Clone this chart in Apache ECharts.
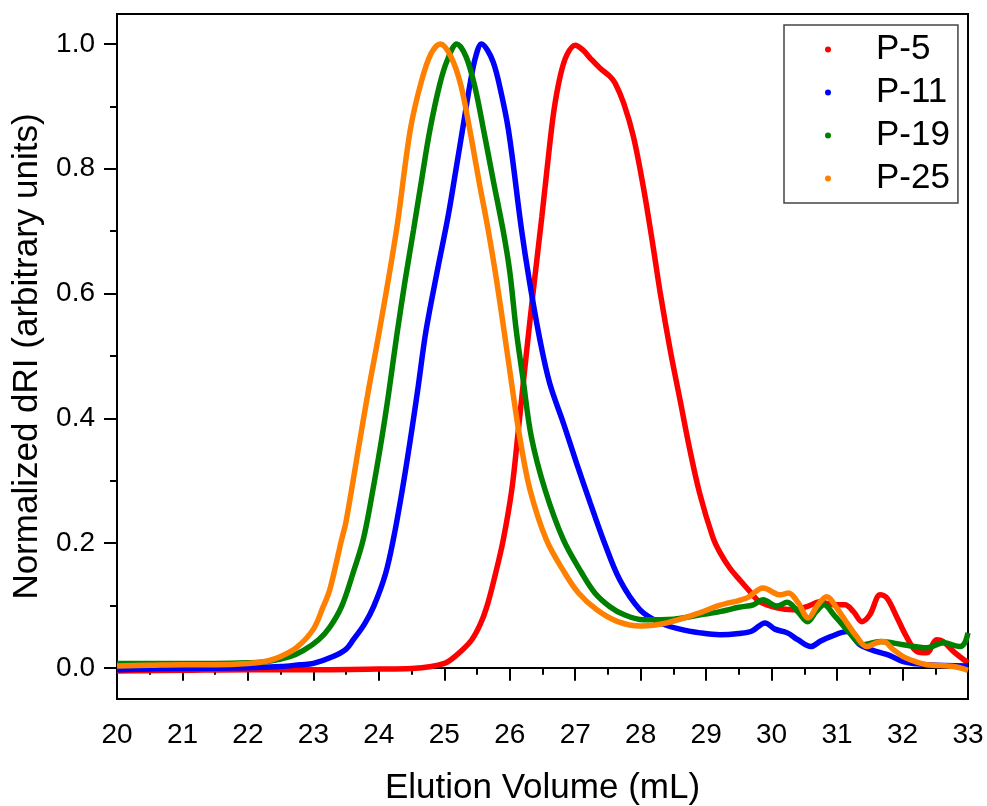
<!DOCTYPE html>
<html>
<head>
<meta charset="utf-8">
<script src="https://cdn.jsdelivr.net/npm/echarts@6/dist/echarts.min.js"></script>
<style>html,body{margin:0;padding:0;background:#fff}#c{width:987px;height:806px}</style>
</head>
<body>
<div id="c"></div>
<script>
const seriesNames = ['P-5', 'P-11', 'P-19', 'P-25'];
const seriesColors = ['#ff0000', '#0000ff', '#008000', '#ff8000'];
const xTicks = [20, 21, 22, 23, 24, 25, 26, 27, 28, 29, 30, 31, 32, 33];
const yTickLabels = [0.0, 0.2, 0.4, 0.6, 0.8, 1.0];
const yMinorTicks = [0.1, 0.3, 0.5, 0.7, 0.9];

const p5 = [[20,-0.005],[21,-0.004],[22,-0.003],[23,-0.003],[24,-0.002],[24.5,-0.001],[24.8,0.002],[25.0,0.007],[25.1,0.013],[25.25,0.026],[25.42,0.045],[25.55,0.07],[25.65,0.098],[25.78,0.15],[25.9,0.205],[26.03,0.285],[26.12,0.37],[26.25,0.5],[26.36,0.605],[26.49,0.723],[26.57,0.8],[26.67,0.89],[26.77,0.948],[26.87,0.982],[27.0,0.998],[27.12,0.99],[27.23,0.977],[27.38,0.961],[27.53,0.948],[27.61,0.937],[27.74,0.905],[27.89,0.851],[28.04,0.771],[28.19,0.675],[28.3,0.6],[28.45,0.51],[28.6,0.43],[28.75,0.35],[28.9,0.28],[29.1,0.21],[29.21,0.185],[29.36,0.16],[29.52,0.14],[29.67,0.122],[29.82,0.106],[30.08,0.096],[30.33,0.093],[30.54,0.098],[30.74,0.106],[30.94,0.101],[31.12,0.101],[31.25,0.09],[31.38,0.074],[31.5,0.085],[31.66,0.117],[31.76,0.112],[31.91,0.082],[32.06,0.05],[32.22,0.026],[32.37,0.024],[32.52,0.045],[32.62,0.042],[32.78,0.026],[33.0,0.008]];
const p11 = [[20,-0.003],[21,-0.001],[22,0.0],[22.5,0.002],[22.8,0.005],[23.0,0.007],[23.3,0.018],[23.5,0.03],[23.61,0.045],[23.78,0.07],[23.92,0.098],[24.1,0.15],[24.22,0.205],[24.35,0.28],[24.48,0.365],[24.6,0.45],[24.72,0.54],[24.9,0.64],[25.06,0.725],[25.18,0.8],[25.29,0.87],[25.4,0.94],[25.48,0.98],[25.57,1.0],[25.66,0.99],[25.75,0.97],[25.84,0.935],[25.98,0.862],[26.18,0.702],[26.3,0.62],[26.46,0.526],[26.61,0.456],[26.82,0.392],[27.02,0.328],[27.23,0.264],[27.43,0.205],[27.68,0.141],[27.99,0.093],[28.3,0.072],[28.6,0.062],[28.91,0.056],[29.21,0.053],[29.5,0.055],[29.7,0.059],[29.9,0.072],[30.05,0.062],[30.24,0.056],[30.4,0.045],[30.6,0.034],[30.75,0.043],[30.9,0.05],[31.15,0.058],[31.35,0.037],[31.61,0.026],[31.8,0.02],[32.01,0.01],[32.37,0.005],[33,0.003]];
const p19 = [[20,0.007],[20.5,0.007],[21,0.007],[21.5,0.007],[22,0.008],[22.3,0.01],[22.64,0.018],[22.85,0.028],[23.08,0.045],[23.25,0.065],[23.43,0.098],[23.6,0.15],[23.76,0.205],[23.9,0.28],[24.04,0.365],[24.15,0.44],[24.27,0.53],[24.4,0.62],[24.53,0.702],[24.65,0.78],[24.78,0.862],[24.93,0.935],[25.05,0.975],[25.19,1.0],[25.33,0.98],[25.47,0.93],[25.6,0.862],[25.75,0.78],[25.9,0.7],[26.0,0.635],[26.1,0.54],[26.2,0.465],[26.33,0.37],[26.54,0.285],[26.82,0.205],[27.1,0.152],[27.3,0.12],[27.53,0.098],[27.75,0.085],[28.04,0.077],[28.5,0.078],[28.91,0.085],[29.21,0.09],[29.5,0.097],[29.72,0.101],[29.87,0.109],[30.08,0.099],[30.24,0.105],[30.4,0.09],[30.55,0.074],[30.68,0.09],[30.8,0.101],[30.95,0.085],[31.15,0.061],[31.4,0.037],[31.66,0.042],[32.01,0.037],[32.37,0.032],[32.63,0.04],[32.88,0.034],[32.95,0.04],[33,0.056]];
const p25 = [[20,0.003],[20.5,0.004],[21,0.005],[21.5,0.005],[22,0.007],[22.3,0.011],[22.5,0.018],[22.75,0.033],[23.0,0.062],[23.15,0.098],[23.25,0.125],[23.43,0.205],[23.5,0.235],[23.71,0.365],[23.85,0.45],[24.0,0.535],[24.27,0.702],[24.48,0.862],[24.65,0.94],[24.8,0.985],[24.94,1.0],[25.1,0.98],[25.25,0.935],[25.39,0.862],[25.53,0.78],[25.67,0.702],[25.8,0.62],[25.92,0.535],[26.05,0.44],[26.16,0.365],[26.31,0.285],[26.56,0.205],[26.84,0.152],[27.05,0.12],[27.33,0.093],[27.65,0.074],[28.0,0.067],[28.4,0.072],[28.9,0.088],[29.2,0.1],[29.62,0.112],[29.87,0.128],[30.13,0.117],[30.26,0.12],[30.4,0.105],[30.56,0.08],[30.7,0.1],[30.84,0.114],[31.0,0.095],[31.15,0.072],[31.3,0.05],[31.45,0.034],[31.6,0.04],[31.71,0.042],[31.85,0.03],[32.01,0.018],[32.2,0.01],[32.37,0.005],[32.78,0.002],[33,-0.004]];
const seriesData = [p5, p11, p19, p25];

const FONT = 'Liberation Sans, Arial, sans-serif';
const chart = echarts.init(document.getElementById('c'), null, {renderer: 'canvas'});
chart.setOption({
  backgroundColor: '#fff',
  animation: false,
  grid: {left: 117, right: 19, top: 14, bottom: 107, outerBoundsMode: 'none', containLabel: false, show: true, borderColor: '#000', borderWidth: 2, backgroundColor: 'transparent'},
  legend: {
    orient: 'vertical', left: 784, top: 25,
    padding: [7, 8, 7, 41], itemGap: 8,
    borderColor: '#444', borderWidth: 1.5,
    icon: 'circle', itemWidth: 6, itemHeight: 6,
    textStyle: {fontFamily: FONT, fontSize: 35, color: '#000', lineHeight: 35, padding: [0, 0, 0, 40]},
    data: seriesNames
  },
  xAxis: {
    type: 'value', min: 20, max: 33, interval: 1,
    name: 'Elution Volume (mL)', nameLocation: 'middle', nameGap: 72,
    nameTextStyle: {fontFamily: FONT, fontSize: 35, color: '#000'},
    axisLine: {show: true, lineStyle: {color: '#000', width: 2}},
    axisTick: {show: true, inside: false, length: 13, lineStyle: {color: '#000', width: 2}},
    minorTick: {show: true, splitNumber: 2, length: 7, lineStyle: {color: '#000', width: 2}},
    axisLabel: {fontFamily: FONT, fontSize: 28, color: '#000', margin: 22, customValues: xTicks},
    splitLine: {show: false}
  },
  yAxis: [{
    type: 'value', min: -0.05, max: 1.048,
    name: 'Normalized dRI (arbitrary units)', nameLocation: 'middle', nameGap: 70,
    nameTextStyle: {fontFamily: FONT, fontSize: 35, color: '#000'},
    axisLine: {show: true, lineStyle: {color: '#000', width: 2}},
    axisTick: {show: true, inside: false, length: 13, customValues: yTickLabels, lineStyle: {color: '#000', width: 2}},
    axisLabel: {fontFamily: FONT, fontSize: 28, color: '#000', margin: 22, customValues: yTickLabels, formatter: v => v.toFixed(1)},
    splitLine: {show: false}
  }, {
    type: 'value', min: -0.05, max: 1.048, position: 'left',
    axisLine: {show: false},
    axisTick: {show: true, inside: false, length: 7, customValues: yMinorTicks, lineStyle: {color: '#000', width: 2}},
    axisLabel: {show: false},
    splitLine: {show: false}
  }],
  series: seriesNames.map((n, i) => ({
    name: n, type: 'line', data: seriesData[i], yAxisIndex: 0,
    showSymbol: false, symbol: 'circle', smooth: 0.35,
    color: seriesColors[i],
    lineStyle: {color: seriesColors[i], width: 5.5},
    itemStyle: {color: seriesColors[i]},
    z: 2 + i
  }))
});
</script>
</body>
</html>
